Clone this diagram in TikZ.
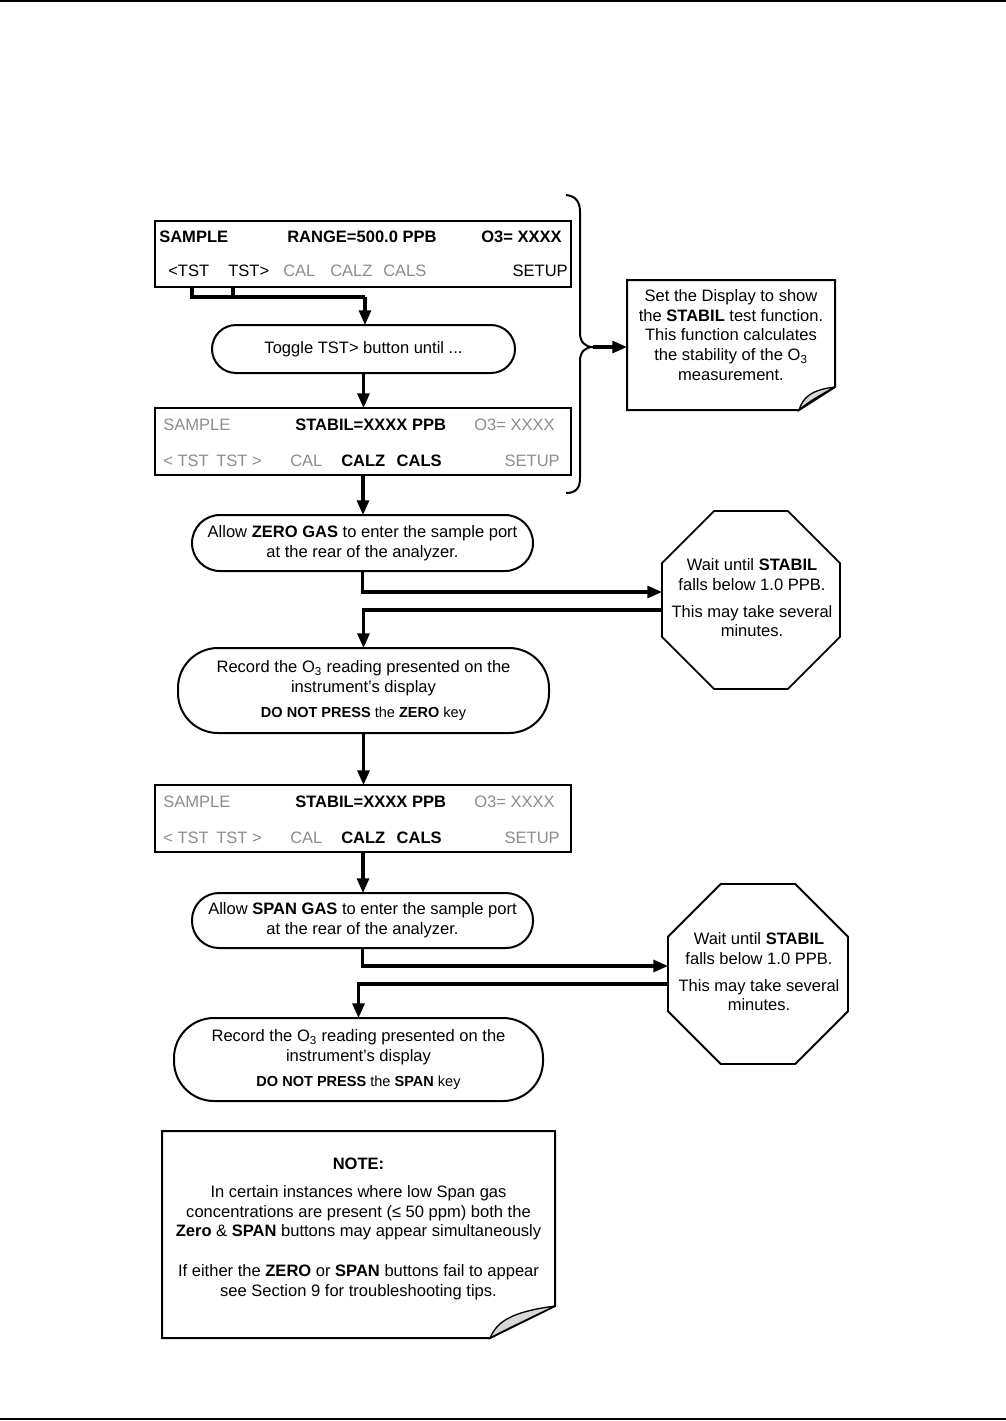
\documentclass[tikz,border=0pt]{standalone}
\usepackage{fontspec}
\setmainfont{Liberation Sans}
\usetikzlibrary{arrows.meta,shapes.geometric,calc}
\newdimen\pu \pu=0.75pt
\definecolor{dgray}{RGB}{140,140,140}
\definecolor{foldgray}{RGB}{215,215,215}
\begin{document}
\begin{tikzpicture}[x=0.75pt,y=-0.75pt,
  font=\fontsize{12.4pt}{14.8pt}\selectfont,
  box/.style={draw, line width=1.5pt, inner sep=0pt, outer sep=0pt},
  disp/.style={box, minimum width=416\pu, minimum height=67\pu},
  pill/.style={box, rounded corners=27\pu, align=center},
  recbox/.style={box, rounded corners=40\pu, align=center},
  octbox/.style={draw, line width=1.4pt, regular polygon, regular polygon sides=8, inner sep=0pt, outer sep=0pt},
  dt/.style={inner sep=0pt, anchor=base west},
  dte/.style={inner sep=0pt, anchor=base east},
  conn/.style={line width=2.3pt},
  arr/.style={conn, -{Triangle[length=11pt,width=9pt]}},
  tx/.style={align=center, inner sep=0pt},
  small/.style={font=\fontsize{10.9pt}{13pt}\selectfont},
]
\useasboundingbox (0,0) rectangle (1006,1421);
% page rules
\draw[line width=1.5pt] (0,1) -- (1006,1);
\draw[line width=1.5pt] (0,1419) -- (1006,1419);

% ---- display 1
\node[disp, minimum height=66\pu] (d1) at (363,254) {};
\node[dt] (d1a) at (159,242.5) {\textbf{SAMPLE}};
\node[dt] (d1b) at (287,242.5) {\textbf{RANGE=500.0 PPB}};
\node[dte] (d1c) at (562,242.5) {\textbf{O3= XXXX}};
\node[dt] (d1d) at (168,276.5) {<TST};
\node[dt] (d1e) at (228,276.5) {TST>};
\node[dt, text=dgray] (d1f) at (283,276.5) {CAL};
\node[dt, text=dgray] (d1g) at (330,276.5) {CALZ};
\node[dt, text=dgray] (d1h) at (383,276.5) {CALS};
\node[dte] (d1i) at (568,276.5) {SETUP};

% ---- toggle
\node[pill, minimum width=303\pu, minimum height=48\pu, rounded corners=24\pu] (tog) at (363.5,349) {Toggle TST> button until ...};

% ---- display 2
\node[disp] (d2) at (363,441.5) {};
\node[dt, text=dgray] (d2a) at (163,430) {SAMPLE};
\node[dt] (d2b) at (295,430) {\textbf{STABIL=XXXX PPB}};
\node[dte, text=dgray] (d2c) at (555,430) {O3= XXXX};
\node[dt, text=dgray] (d2d) at (163,466.5) {< TST};
\node[dte, text=dgray] (d2e) at (262,466.5) {TST >};
\node[dt, text=dgray] (d2f) at (290,466.5) {CAL};
\node[dt] (d2g) at (341,466.5) {\textbf{CALZ}};
\node[dte] (d2h) at (442,466.5) {\textbf{CALS}};
\node[dte, text=dgray] (d2i) at (560,466.5) {SETUP};

% ---- brace and note 1
\draw[line width=1.5pt] (566,195) .. controls (576,196) and (580,202) .. (580,212) -- (580,333)
  .. controls (580,342) and (585,347) .. (593,347) .. controls (585,347) and (580,352) .. (580,361)
  -- (580,478) .. controls (580,488) and (576,493) .. (566,493);
\coordinate (btip) at (593,347);
\node[inner sep=0pt, outer sep=0pt, minimum width=208\pu, minimum height=130\pu] (note1) at (731,345) {};
\draw[line width=1.5pt] (note1.north west) -- (note1.north east) -- (835,387) -- (799,410) -- (note1.south west) -- cycle;
\filldraw[fill=foldgray, line width=1pt] (835,387) .. controls (822,394) and (808,402) .. (799,410)
  .. controls (803,398) and (810,390) .. (835,387);
\node[tx] (note1t) at (731,335) {Set the Display to show\\the \textbf{STABIL} test function.\\This function calculates\\the stability of the O\textsubscript{3}\\measurement.};
\draw[arr] (btip) -- (btip -| note1.west);

% ---- zero gas
\node[pill, minimum width=341\pu, minimum height=56\pu, rounded corners=28\pu] (zero) at (362.5,543) {Allow \textbf{ZERO GAS} to enter the sample port\\at the rear of the analyzer.};

% ---- octagon 1
\node[octbox, minimum size=192.7\pu] (oct1) at (751,600) {};
\node[tx] (oct1t) at (752,598) {Wait until \textbf{STABIL}\\falls below 1.0 PPB.\\[5pt]This may take several\\minutes.};

% ---- record 1
\node[recbox, minimum width=371\pu, minimum height=85\pu] (rec1) at (363.5,690.5) {Record the O\textsubscript{3} reading presented on the\\instrument’s display\\[4pt]{\fontsize{10.9pt}{13pt}\selectfont\textbf{DO NOT PRESS} the \textbf{ZERO} key}};

% ---- display 3
\node[disp] (d3) at (363,818.5) {};
\node[dt, text=dgray] (d3a) at (163,807) {SAMPLE};
\node[dt] (d3b) at (295,807) {\textbf{STABIL=XXXX PPB}};
\node[dte, text=dgray] (d3c) at (555,807) {O3= XXXX};
\node[dt, text=dgray] (d3d) at (163,843) {< TST};
\node[dte, text=dgray] (d3e) at (262,843) {TST >};
\node[dt, text=dgray] (d3f) at (290,843) {CAL};
\node[dt] (d3g) at (341,843) {\textbf{CALZ}};
\node[dte] (d3h) at (442,843) {\textbf{CALS}};
\node[dte, text=dgray] (d3i) at (560,843) {SETUP};

% ---- span gas
\node[pill, minimum width=341\pu, minimum height=55\pu, rounded corners=27\pu] (span) at (362.5,920.5) {Allow \textbf{SPAN GAS} to enter the sample port\\at the rear of the analyzer.};

% ---- octagon 2
\node[octbox, minimum size=194.8\pu] (oct2) at (758,974) {};
\node[tx] (oct2t) at (759,972) {Wait until \textbf{STABIL}\\falls below 1.0 PPB.\\[5pt]This may take several\\minutes.};

% ---- record 2
\node[recbox, minimum width=369\pu, minimum height=83\pu] (rec2) at (358.5,1059.5) {Record the O\textsubscript{3} reading presented on the\\instrument’s display\\[4pt]{\fontsize{10.9pt}{13pt}\selectfont\textbf{DO NOT PRESS} the \textbf{SPAN} key}};

% ---- note 2
\node[inner sep=0pt, outer sep=0pt, minimum width=393\pu, minimum height=207\pu] (note2) at (358.5,1234.5) {};
\draw[line width=1.5pt] (note2.north west) -- (note2.north east) -- (555,1306) -- (490,1338) -- (note2.south west) -- cycle;
\filldraw[fill=foldgray, line width=1pt] (555,1306) .. controls (530,1318) and (505,1330) .. (490,1338)
  .. controls (497,1322) and (510,1312) .. (555,1306);
\node[tx] (note2t) at (358.5,1229) {\textbf{NOTE:}\\[6pt]In certain instances where low Span gas\\concentrations are present (≤ 50 ppm) both the\\\textbf{Zero} \& \textbf{SPAN} buttons may appear simultaneously\\[15pt]If either the \textbf{ZERO} or \textbf{SPAN} buttons fail to appear\\see Section 9 for troubleshooting tips.};

% ---- connectors
\coordinate (b1) at (192,287);
\coordinate (b2) at (233,287);
\coordinate (j1) at (365,297);
\draw[conn] (b1) |- (j1);
\draw[conn] (b2) -- (b2 |- j1);
\draw[arr] (j1) -- (j1 |- tog.north);
\draw[arr] (tog.south) -- (tog.south |- d2.north);
\draw[arr] (d2.south) -- (d2.south |- zero.north);
\draw[arr] (zero.south) |- ($(oct1.west)+(0,-8)$);
\draw[arr] ($(oct1.west)+(0,10)$) -| (rec1.north);
\draw[arr] (rec1.south) -- (rec1.south |- d3.north);
\draw[arr] (d3.south) -- (d3.south |- span.north);
\draw[arr] (span.south) |- ($(oct2.west)+(0,-8)$);
\draw[arr] ($(oct2.west)+(0,10)$) -| (rec2.north);
\end{tikzpicture}
\end{document}
